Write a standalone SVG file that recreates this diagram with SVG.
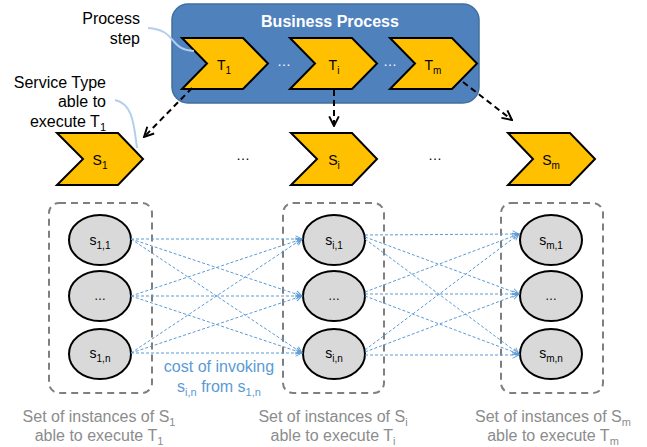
<svg xmlns="http://www.w3.org/2000/svg" width="647" height="447" viewBox="0 0 647 447">
<style>
.chev{fill:#ffc000;stroke:#000;stroke-width:2;stroke-linejoin:miter}
.inst{fill:#d9d9d9;stroke:#000;stroke-width:2}
.set{fill:none;stroke:#7f7f7f;stroke-width:2;stroke-dasharray:7 5}
.lbl{font-family:"Liberation Sans",Arial,sans-serif;font-size:14px;fill:#000;text-anchor:middle}
.call{font-family:"Liberation Sans",Arial,sans-serif;font-size:16px;fill:#000;text-anchor:end}
.cap{font-family:"Liberation Sans",Arial,sans-serif;font-size:16px;fill:#8c8c8c;text-anchor:middle}
.cost{font-family:"Liberation Sans",Arial,sans-serif;font-size:16px;fill:#5b9bd5;text-anchor:middle}
.flow{fill:none;stroke:#000;stroke-width:2;stroke-dasharray:6 4}
.inv{fill:none;stroke:#5b9bd5;stroke-width:1;stroke-dasharray:3 2}
.lead{fill:none;stroke:#b4cfee;stroke-width:2}
</style>
<defs>
<marker id="ah" viewBox="0 0 10 10" refX="9" refY="5" markerWidth="6" markerHeight="6" orient="auto" markerUnits="strokeWidth">
<path d="M1,1 L9,5 L1,9" fill="none" stroke="#000" stroke-width="1.6"/>
</marker>
<marker id="ab" viewBox="0 0 10 10" refX="9" refY="5" markerWidth="8" markerHeight="8" orient="auto" markerUnits="strokeWidth">
<path d="M1,1 L9,5 L1,9" fill="none" stroke="#5b9bd5" stroke-width="1.2"/>
</marker>
</defs>

<g id="business-process">
<rect x="172" y="4" width="307" height="99" rx="16" fill="#4f81bd" stroke="#41709c" stroke-width="1.5"/>
<text x="330" y="27" font-family="Liberation Sans,Arial,sans-serif" font-size="16" font-weight="bold" fill="#fff" text-anchor="middle">Business Process</text>
<text x="284" y="66" class="lbl" style="fill:#fff">…</text>
<text x="390" y="66" class="lbl" style="fill:#fff">…</text>
</g>
<g id="T1">
<path class="chev" d="M182,38 L243,38 L268,63.5 L243,89 L182,89 L207,63.5 Z"/>
<text x="224" y="70" class="lbl">T<tspan dy="4" font-size="10">1</tspan></text>
</g>
<g id="Ti">
<path class="chev" d="M290,38 L352,38 L377,63.5 L352,89 L290,89 L315,63.5 Z"/>
<text x="334" y="70" class="lbl">T<tspan dy="4" font-size="10">i</tspan></text>
</g>
<g id="Tm">
<path class="chev" d="M390,38 L452,38 L477,63.5 L452,89 L390,89 L415,63.5 Z"/>
<text x="433" y="70" class="lbl">T<tspan dy="4" font-size="10">m</tspan></text>
</g>

<g id="callouts">
<text class="call" x="140" y="24">Process</text>
<text class="call" x="140" y="44">step</text>
<path class="lead" d="M148,28 C178,30 168,50 194,51"/>
<text class="call" x="106" y="88">Service Type</text>
<text class="call" x="106" y="107">able to</text>
<text class="call" x="106" y="127">execute T<tspan dy="4" font-size="11">1</tspan></text>
<path class="lead" d="M115,100 C134,104 134,128 137,148"/>
</g>

<g id="S1">
<path class="chev" d="M57,133 L118,133 L143,159 L118,185 L57,185 L83,159 Z"/>
<text x="100" y="165" class="lbl">S<tspan dy="4" font-size="10">1</tspan></text>
</g>
<g id="Si">
<path class="chev" d="M291,133 L352,133 L377,159 L352,185 L291,185 L317,159 Z"/>
<text x="334" y="165" class="lbl">S<tspan dy="4" font-size="10">i</tspan></text>
</g>
<g id="Sm">
<path class="chev" d="M508,133 L570,133 L595,159 L570,185 L508,185 L533,159 Z"/>
<text x="551" y="165" class="lbl">S<tspan dy="4" font-size="10">m</tspan></text>
</g>
<text x="243" y="160" class="lbl">…</text>
<text x="435" y="160" class="lbl">…</text>

<g id="set1">
<rect class="set" x="49" y="203" width="103" height="190" rx="10"/>
<ellipse class="inst" cx="100" cy="240" rx="31" ry="25"/>
<text x="100" y="245" class="lbl" style="font-size:14px">s<tspan dy="4" font-size="10">1,1</tspan></text>
<ellipse class="inst" cx="100" cy="296" rx="31" ry="25"/>
<text x="100" y="300" class="lbl" style="font-size:12px">…</text>
<ellipse class="inst" cx="100" cy="354" rx="31" ry="25"/>
<text x="100" y="358" class="lbl" style="font-size:14px">s<tspan dy="4" font-size="10">1,n</tspan></text>
</g>
<g id="seti">
<rect class="set" x="283" y="203" width="101" height="190" rx="10"/>
<ellipse class="inst" cx="334" cy="240" rx="31" ry="25"/>
<text x="334" y="245" class="lbl" style="font-size:14px">s<tspan dy="4" font-size="10">i,1</tspan></text>
<ellipse class="inst" cx="334" cy="296" rx="31" ry="25"/>
<text x="334" y="300" class="lbl" style="font-size:12px">…</text>
<ellipse class="inst" cx="334" cy="354" rx="31" ry="25"/>
<text x="334" y="358" class="lbl" style="font-size:14px">s<tspan dy="4" font-size="10">i,n</tspan></text>
</g>
<g id="setm">
<rect class="set" x="501" y="203" width="102" height="190" rx="10"/>
<ellipse class="inst" cx="551" cy="240" rx="31" ry="25"/>
<text x="551" y="245" class="lbl" style="font-size:14px">s<tspan dy="4" font-size="10">m,1</tspan></text>
<ellipse class="inst" cx="551" cy="296" rx="31" ry="25"/>
<text x="551" y="300" class="lbl" style="font-size:12px">…</text>
<ellipse class="inst" cx="551" cy="354" rx="31" ry="25"/>
<text x="551" y="358" class="lbl" style="font-size:14px">s<tspan dy="4" font-size="10">m,n</tspan></text>
</g>

<g id="connectors">
<line class="flow" x1="192" y1="88" x2="144" y2="137" marker-end="url(#ah)"/>
<line class="flow" x1="334" y1="90" x2="334" y2="126" marker-end="url(#ah)"/>
<line class="flow" x1="463" y1="82" x2="512" y2="120" marker-end="url(#ah)"/>

<line class="inv" x1="131" y1="239" x2="302" y2="239" marker-end="url(#ab)"/>
<line class="inv" x1="131" y1="239" x2="302" y2="296" marker-end="url(#ab)"/>
<line class="inv" x1="131" y1="239" x2="302" y2="353" marker-end="url(#ab)"/>
<line class="inv" x1="131" y1="296" x2="302" y2="239" marker-end="url(#ab)"/>
<line class="inv" x1="131" y1="296" x2="302" y2="296" marker-end="url(#ab)"/>
<line class="inv" x1="131" y1="296" x2="302" y2="353" marker-end="url(#ab)"/>
<line class="inv" x1="131" y1="353" x2="302" y2="239" marker-end="url(#ab)"/>
<line class="inv" x1="131" y1="353" x2="302" y2="296" marker-end="url(#ab)"/>
<line class="inv" x1="131" y1="353" x2="302" y2="353" marker-end="url(#ab)"/>

<line class="inv" x1="365" y1="235" x2="519" y2="234" marker-end="url(#ab)"/>
<line class="inv" x1="365" y1="237" x2="519" y2="294" marker-end="url(#ab)"/>
<line class="inv" x1="365" y1="239" x2="519" y2="354" marker-end="url(#ab)"/>
<line class="inv" x1="365" y1="292" x2="519" y2="234" marker-end="url(#ab)"/>
<line class="inv" x1="365" y1="294" x2="519" y2="294" marker-end="url(#ab)"/>
<line class="inv" x1="365" y1="296" x2="519" y2="354" marker-end="url(#ab)"/>
<line class="inv" x1="365" y1="350" x2="519" y2="234" marker-end="url(#ab)"/>
<line class="inv" x1="365" y1="352" x2="519" y2="294" marker-end="url(#ab)"/>
<line class="inv" x1="365" y1="355" x2="519" y2="355" marker-end="url(#ab)"/>
</g>

<g id="cost-label">
<text class="cost" x="219" y="372">cost of invoking</text>
<text class="cost" x="219" y="392">s<tspan dy="4" font-size="11">i,n</tspan><tspan dy="-4"> from s</tspan><tspan dy="4" font-size="11">1,n</tspan></text>
</g>

<g id="captions">
<text class="cap" x="99" y="422">Set of instances of S<tspan dy="4" font-size="11">1</tspan></text>
<text class="cap" x="99" y="441">able to execute T<tspan dy="4" font-size="11">1</tspan></text>
<text class="cap" x="333" y="422">Set of instances of S<tspan dy="4" font-size="11">i</tspan></text>
<text class="cap" x="333" y="441">able to execute T<tspan dy="4" font-size="11">i</tspan></text>
<text class="cap" x="553" y="422">Set of instances of S<tspan dy="4" font-size="11">m</tspan></text>
<text class="cap" x="553" y="441">able to execute T<tspan dy="4" font-size="11">m</tspan></text>
</g>
</svg>
